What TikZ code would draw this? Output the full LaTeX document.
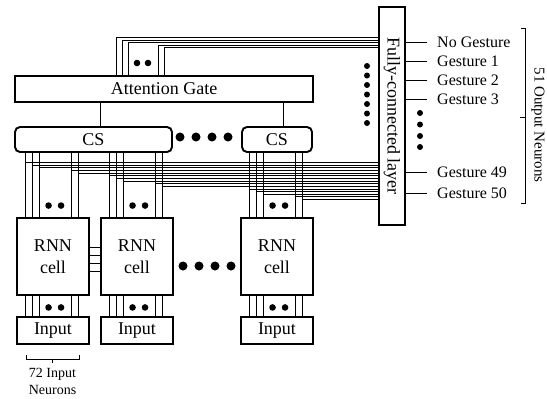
\documentclass[tikz,border=0pt]{standalone}
\usepackage{fontspec}
\setmainfont{Liberation Serif}
\usetikzlibrary{calc}

\begin{document}
\begin{tikzpicture}[x=1pt,y=-1pt,
    box/.style={draw,line width=1.9pt,inner sep=0pt,align=center,font=\fontsize{18}{22}\selectfont},
    wire/.style={line width=0.8pt},
    gest/.style={anchor=west,inner sep=0pt,inner xsep=10pt,font=\fontsize{16}{18}\selectfont}]
    \useasboundingbox (0,0) rectangle (547,399);

    \node[box,minimum width=298pt,minimum height=26pt] (ag) at (164,89) {Attention Gate};
    \node[box,rounded corners=5pt,minimum width=157pt,minimum height=25pt] (cs1) at (93.5,139.5) {CS};
    \node[box,rounded corners=5pt,minimum width=70pt,minimum height=25pt] (cs2) at (277,139.5) {CS};
    \node[box,minimum width=26pt,minimum height=218pt] (fc) at (392,116) {};
    \node[rotate=-90,inner sep=0pt,font=\fontsize{18}{22}\selectfont] (fclabel) at (fc.center) {Fully-connected layer};

    \node[box,minimum width=72pt,minimum height=77pt] (c1) at (53,256.5) {RNN\\cell};
    \node[box,minimum width=72pt,minimum height=77pt] (c2) at (137,256.5) {RNN\\cell};
    \node[box,minimum width=72pt,minimum height=77pt] (c3) at (277,256.5) {RNN\\cell};
    \node[box,minimum width=72pt,minimum height=27pt] (in1) at (53,330.5) {Input};
    \node[box,minimum width=72pt,minimum height=27pt] (in2) at (137,330.5) {Input};
    \node[box,minimum width=72pt,minimum height=27pt] (in3) at (277,330.5) {Input};

    \draw[wire] (100,0 |- ag.south) -- (100,0 |- cs1.north);
    \draw[wire] (283,0 |- ag.south) -- (283,0 |- cs2.north);
    \foreach \xw/\yw in {116/37.5,122/40,128/42.5,158/45,164/47.5}
        \draw[wire] (\xw,0 |- ag.north) |- (fc.west |- 0,\yw);
    \fill (137,63) circle (3.3pt) (148,63) circle (3.3pt);

    \foreach \cel/\inp/\grp/\k in {c1/in1/cs1/0,c2/in2/cs1/1,c3/in3/cs2/2} {
        \foreach \o [count=\j from 0] in {9,16,23.5,55,62} {
            \pgfmathsetmacro{\yb}{162.5+2.64*(5*\k+\j)}
            \draw[wire] ($(\inp.north west)+(\o,0)$) -- ($(\cel.south west)+(\o,0)$);
            \draw[wire] ($(\cel.north west)+(\o,0)$) -- ($(\cel.north west |- \grp.south)+(\o,0)$);
            \draw[wire] ($(\cel.north west)+(\o,0)$) |- (fc.west |- 0,\yb);
        }
        \fill ($(\cel.north west)+(32.5,-11.5)$) circle (3.3pt) ($(\cel.north west)+(45,-11.5)$) circle (3.3pt);
        \fill ($(\cel.south west)+(32.5,11.5)$) circle (3.3pt) ($(\cel.south west)+(45,11.5)$) circle (3.3pt);
    }
    \foreach \yc in {247,255,263,271}
        \draw[wire] (c1.east |- 0,\yc) -- (c2.west |- 0,\yc);

    \foreach \xd in {180,196,212,228} {
        \fill (\xd,137) circle (4.5pt);
        \fill (\xd+3,266) circle (4.5pt);
    }
    \foreach \yd in {66,75.5,85,94.5,104,113.5,123}
        \fill (367,\yd) circle (3pt);
    \foreach \yd in {113,124.5,136,147}
        \fill (420,\yd) circle (3pt);

    \node[gest] (g0) at (427,42) {No Gesture};
    \node[gest] (g1) at (427,61) {Gesture 1};
    \node[gest] (g2) at (427,80) {Gesture 2};
    \node[gest] (g3) at (427,99) {Gesture 3};
    \node[gest] (g49) at (427,172) {Gesture 49};
    \node[gest] (g50) at (427,193) {Gesture 50};
    \foreach \g in {g0,g1,g2,g3,g49,g50}
        \draw[wire] (fc.east |- \g.west) -- (\g.west);

    \draw[wire] (521,28) -- (525,28) -- (525,203) -- (521,203) (525,117) -- (520,117);
    \node[rotate=-90,inner sep=0pt,font=\fontsize{15}{17}\selectfont] (outnote) at (538,125) {51 Output Neurons};

    \draw[wire] (26,355) -- (26,359) -- (79,359) -- (79,355) (52.5,359) -- (52.5,363);
    \node[align=center,inner sep=0pt,font=\fontsize{14}{17}\selectfont] (innote) at (52.5,381) {72 Input\\Neurons};
\end{tikzpicture}
\end{document}
